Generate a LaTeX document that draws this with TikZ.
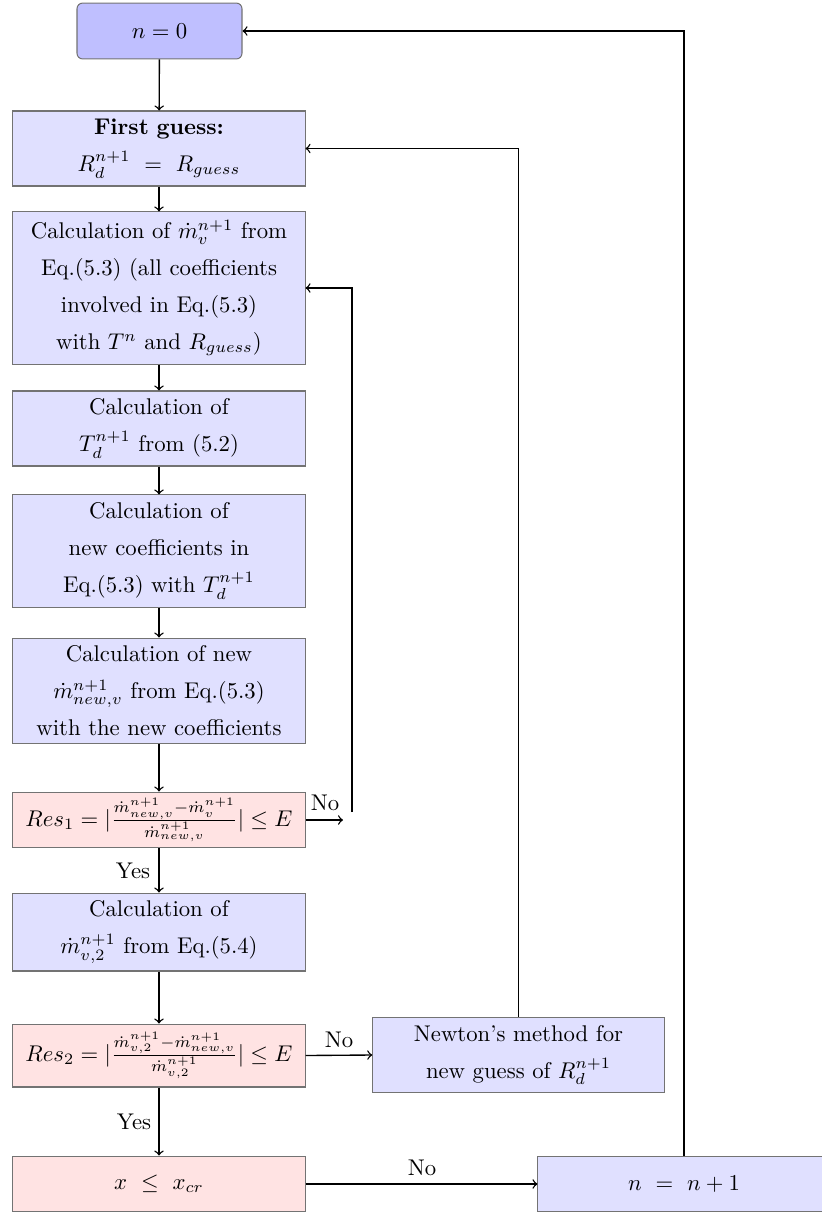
\documentclass[tikz,border=0pt]{standalone}
\usepackage{amsmath}
\begin{document}
\begin{tikzpicture}[x=0.44pt,y=-0.44pt,
  base/.style={draw=black!55,line width=0.45pt,align=center,inner ysep=1pt,
    font=\fontsize{10}{16.3}\selectfont},
  procbox/.style={base,fill=blue!12,text width=124pt,inner xsep=2.25pt},
  testbox/.style={base,fill=red!11,text width=124pt,inner xsep=2.25pt},
  startbox/.style={base,fill=blue!25,rounded corners=2.5pt,minimum width=72.6pt,minimum height=24.6pt},
  lbl/.style={inner sep=0pt,font=\fontsize{10}{12}\selectfont},
  conn/.style={->,semithick}
]
\useasboundingbox (0,0) rectangle (822,1214);

% main column
\node[startbox] (n0) at (159.5,31) {$n=0$};
\node[procbox,minimum height=33pt] (g1) at (159,148.5)
  {\textbf{First guess:}\\ \mbox{$R_d^{n+1}\ =\ R_{guess}$}};
\node[procbox,minimum height=66.9pt] (c2) at (159,288)
  {Calculation of $\dot{m}_v^{n+1}$ from\\ Eq.(5.3) (all coefficients\\ involved in Eq.(5.3)\\ with $T^n$ and $R_{guess}$)};
\node[procbox,minimum height=33pt] (c3) at (159,428.5)
  {Calculation of\\ $T_d^{n+1}$ from (5.2)};
\node[procbox,minimum height=49.3pt] (c4) at (159,551)
  {Calculation of\\ new coefficients in\\ Eq.(5.3) with $T_d^{n+1}$};
\node[procbox,minimum height=46.6pt] (c5) at (159,691)
  {Calculation of new\\ $\dot{m}_{new,v}^{n+1}$ from Eq.(5.3)\\ with the new coefficients};
\node[testbox,minimum height=24.6pt] (r1) at (159,820)
  {\mbox{$Res_1 = |\frac{\dot{m}_{new,v}^{n+1}-\dot{m}_v^{n+1}}{\dot{m}_{new,v}^{n+1}}| \leq E$}};
\node[procbox,minimum height=34.3pt] (c7) at (159,932)
  {Calculation of\\ $\dot{m}_{v,2}^{n+1}$ from Eq.(5.4)};
\node[testbox,minimum height=27.7pt] (r2) at (159,1055.5)
  {\mbox{$Res_2 = |\frac{\dot{m}_{v,2}^{n+1}-\dot{m}_{new,v}^{n+1}}{\dot{m}_{v,2}^{n+1}}| \leq E$}};
\node[testbox,minimum height=24.6pt] (xc) at (159,1184)
  {\mbox{$x\ \leq\ x_{cr}$}};

% side boxes
\node[procbox,minimum height=33.4pt,text width=123.8pt] (nw) at (518.5,1055)
  {Newton’s method for\\ new guess of $R_d^{n+1}$};
\node[procbox,minimum height=24.6pt] (np) at (684,1184)
  {\mbox{$n\ =\ n+1$}};

% loose ends of the inner loop
\coordinate (noend) at (343,820);
\coordinate (loopfoot) at (352,812);

% downward flow
\draw[conn] (n0) -- (g1);
\draw[conn] (g1) -- (c2);
\draw[conn] (c2) -- (c3);
\draw[conn] (c3) -- (c4);
\draw[conn] (c4) -- (c5);
\draw[conn] (c5) -- (r1);
\draw[conn] (r1) -- (c7);
\draw[conn] (c7) -- (r2);
\draw[conn] (r2) -- (xc);

% branches
\draw[conn] (r1.east) -- (noend);
\draw[conn] (loopfoot) |- (c2.east);
\draw[conn] (r2.east) -- (nw.west);
\draw[conn] (nw.north) |- (g1.east);
\draw[conn] (xc.east) -- (np.west);
\draw[conn] (np.north) |- (n0.east);

% branch labels
\node[lbl] (l1) at (325,803) {No};
\node[lbl] (l2) at (133,871) {Yes};
\node[lbl] (l3) at (339,1040) {No};
\node[lbl] (l4) at (134,1122) {Yes};
\node[lbl] (l5) at (422,1168) {No};
\end{tikzpicture}
\end{document}
